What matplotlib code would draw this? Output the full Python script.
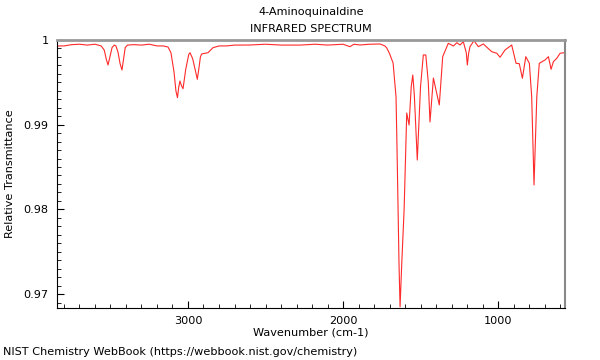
import numpy as np
import matplotlib
matplotlib.use("Agg")
import matplotlib.pyplot as plt
from matplotlib.ticker import MultipleLocator, FuncFormatter

# spectrum points (wavenumber, transmittance)
wavenumber = [3845, 3800, 3750, 3700, 3650, 3600, 3560, 3540, 3528, 3516, 3505, 3490, 3475, 3465,
              3452, 3438, 3426, 3416, 3405, 3390, 3350, 3300, 3250, 3200, 3160, 3129, 3110, 3090, 3078, 3068,
              3060, 3052, 3042, 3032, 3015, 2995, 2987, 2970, 2950, 2940, 2930, 2920, 2912, 2871, 2839, 2800,
              2750, 2700, 2650, 2600, 2500, 2400, 2277, 2180, 2100, 2000, 1955, 1930,
              1890, 1830, 1761, 1730, 1718, 1700, 1677, 1658, 1650, 1639, 1632, 1621, 1606,
              1589, 1574, 1560, 1550, 1540, 1521, 1500, 1482, 1466, 1450, 1439, 1417, 1396, 1379, 1357, 1321,
              1288, 1266, 1245, 1224, 1205, 1198, 1190, 1181, 1155, 1127, 1095, 1041, 1008, 987,
              955, 912, 884, 863, 843, 821, 798, 783, 768, 750, 734, 697, 675, 658,
              643, 621, 600, 574, 568]
transmittance = [0.9993, 0.9993, 0.99945, 0.9995, 0.9994, 0.9995, 0.9993, 0.9988, 0.9978, 0.99705, 0.9979, 0.9991, 0.9994, 0.9993,
                 0.9986, 0.9972, 0.99646, 0.9977, 0.9991, 0.9994, 0.99945, 0.9994, 0.9995, 0.9993, 0.9993, 0.99917, 0.9985, 0.9962, 0.9940, 0.99319,
                 0.9944, 0.99516, 0.99460, 0.99425, 0.9965, 0.9983, 0.9985, 0.9978, 0.9962, 0.99536, 0.9966, 0.9980, 0.99835, 0.9985, 0.99909, 0.9993,
                 0.9993, 0.9994, 0.9994, 0.99941, 0.9995, 0.9994, 0.9994, 0.9995, 0.9994, 0.9995, 0.99921, 0.9995,
                 0.99941, 0.9995, 0.99953, 0.9993, 0.99906, 0.99840, 0.99728, 0.99327, 0.98548, 0.97367, 0.96848, 0.97367, 0.97993,
                 0.99138, 0.98996, 0.9945, 0.99587, 0.9935, 0.98583, 0.9945, 0.99823, 0.99823, 0.9950, 0.99032, 0.99551, 0.99374, 0.99233, 0.99803, 0.99961,
                 0.99929, 0.99968, 0.99941, 0.9998, 0.9985, 0.99705, 0.9984, 0.99921, 0.99992, 0.99921, 0.99953, 0.99862, 0.99843, 0.99796,
                 0.99882, 0.99941, 0.99725, 0.9972, 0.99548, 0.99803, 0.99725, 0.99331, 0.98288, 0.99331, 0.99725, 0.99764, 0.99803, 0.99654,
                 0.99744, 0.99784, 0.99843, 0.9985, 0.9985]

fs = 8.1
fig = plt.figure(figsize=(6, 3.6), dpi=100)
ax = fig.add_axes([0.095, 0.1444, 0.8467, 0.7445])
ax.plot(wavenumber, transmittance, color="#ff2a2a", lw=0.8)

ax.set_xlim(3845, 568)
ax.set_ylim(0.96835, 1.0)
ax.xaxis.set_major_locator(MultipleLocator(1000))
ax.xaxis.set_minor_locator(MultipleLocator(100))
ax.yaxis.set_major_locator(MultipleLocator(0.01))
ax.yaxis.set_minor_locator(MultipleLocator(0.001))
ax.yaxis.set_major_formatter(FuncFormatter(lambda v, p: "%g" % round(v, 4)))
ax.tick_params(which="both", direction="in", top=False, right=False, labelsize=fs)
ax.tick_params(which="major", length=5, pad=6)
ax.tick_params(which="minor", length=3)

ax.spines["top"].set_color("#999999")
ax.spines["top"].set_linewidth(2)
ax.spines["right"].set_color("#888888")
ax.spines["right"].set_linewidth(1.5)

ax.set_xlabel("Wavenumber (cm-1)", fontsize=fs, va="center")
ax.xaxis.set_label_coords(0.5, -0.0896)
ax.set_ylabel("Relative Transmittance", fontsize=fs, va="center")
ax.yaxis.set_label_coords(-0.092, 0.5)
fig.text(0.5183, 0.967, "4-Aminoquinaldine", fontsize=fs, ha="center", va="center")
fig.text(0.5183, 0.919, "INFRARED SPECTRUM", fontsize=fs, ha="center", va="center")
fig.text(0.005, 0.022, "NIST Chemistry WebBook (https://webbook.nist.gov/chemistry)",
         fontsize=fs, va="center")

fig.savefig("out.png")
